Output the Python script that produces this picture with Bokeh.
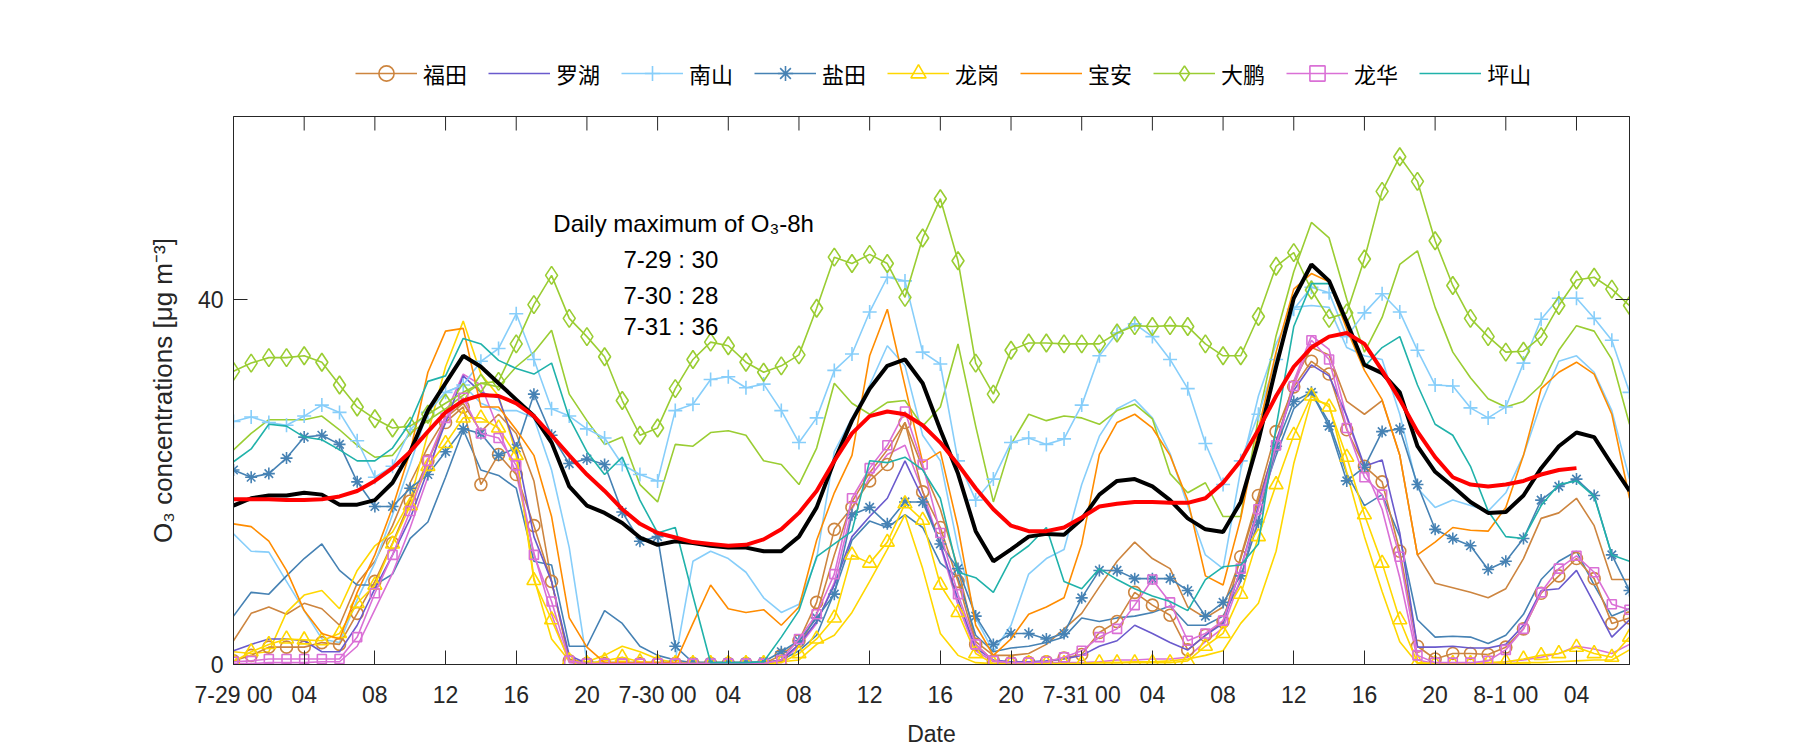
from bokeh.plotting import figure
from bokeh.layouts import column
from bokeh.models import Range1d, FixedTicker, LinearAxis, Legend, LegendItem, Label
from bokeh.embed import file_html
from bokeh.resources import INLINE

# ---------------- data ----------------
hours = list(range(80))          # hours since 7-29 00:00
tick_hours = [0, 4, 8, 12, 16, 20, 24, 28, 32, 36, 40, 44, 48, 52, 56, 60, 64, 68, 72, 76]
tick_labels = ["7-29 00", "04", "08", "12", "16", "20",
               "7-30 00", "04", "08", "12", "16", "20",
               "7-31 00", "04", "08", "12", "16", "20",
               "8-1 00", "04"]
y_ticks = [0, 40]

# 福田 (circles) and second station
futian_m = [0.4, 1.0, 1.9, 1.9, 1.9, 2.4, 2.2, 5.6, 9.1, 13.3,
            17.9, 22.3, 26.5, 28.2, 19.7, 23.0, 20.8, 15.2, 9.1, 0.4,
            0.1, 0.1, 0.1, 0.1, 0.1, 0.1, 0.1, 0.1, 0.1, 0.1,
            0.1, 1.0, 2.6, 6.8, 14.8, 17.2, 20.1, 21.9, 26.5, 18.9,
            15.0, 9.1, 2.2, 0.4, 0.2, 0.2, 0.3, 0.7, 1.1, 3.5,
            4.7, 7.9, 6.5, 5.4, 1.6, 3.2, 4.7, 11.8, 18.5, 25.5,
            30.4, 33.2, 31.8, 25.7, 21.7, 20.0, 12.4, 2.0, 0.6, 1.2,
            1.2, 1.1, 1.9, 3.9, 7.8, 9.7, 11.6, 9.4, 4.5, 5.1]
futian_2 = [2.6, 5.6, 6.3, 5.5, 6.7, 6.1, 4.3, 8.9, 11.3, 15.2,
            19.9, 23.8, 27.0, 28.6, 25.5, 27.4, 25.3, 20.1, 9.1, 0.6,
            0.2, 0.2, 0.2, 0.2, 0.2, 0.2, 0.2, 0.2, 0.2, 0.2,
            0.2, 0.5, 2.0, 5.5, 12.0, 17.8, 21.0, 23.5, 26.5, 21.5,
            17.0, 10.5, 2.5, 1.0, 1.0, 1.2, 2.2, 3.9, 5.6, 8.5,
            11.3, 13.4, 11.6, 10.5, 6.3, 5.1, 6.3, 11.6, 18.0, 24.1,
            31.0, 34.7, 33.9, 28.8, 27.4, 28.9, 22.9, 12.0, 8.9, 8.4,
            7.9, 7.3, 8.3, 11.6, 16.0, 16.6, 18.2, 15.2, 9.3, 9.3]
# 罗湖
luohu = [1.5, 2.2, 2.8, 2.8, 2.6, 1.4, 1.4, 4.3, 8.3, 12.0,
         16.0, 21.3, 26.5, 31.6, 29.8, 29.2, 23.7, 14.0, 9.1, 1.0,
         0.1, 0.1, 0.1, 0.1, 0.1, 0.1, 0.1, 0.1, 0.1, 0.1,
         0.1, 0.5, 2.2, 4.7, 8.7, 14.0, 16.2, 18.2, 22.3, 18.2,
         13.2, 7.1, 1.8, 0.5, 0.3, 0.3, 0.4, 0.6, 1.0, 2.0,
         2.6, 4.3, 3.4, 2.4, 1.6, 3.2, 4.5, 10.5, 17.4, 24.5,
         30.0, 32.8, 31.6, 27.2, 21.7, 22.4, 14.4, 1.9, 1.9, 2.0,
         1.8, 1.8, 2.2, 4.3, 8.1, 8.3, 10.3, 6.7, 3.0, 4.9]
# 南山 (plus) and second station
nanshan_m = [26.6, 27.1, 26.5, 26.2, 27.2, 28.4, 27.6, 24.5, 20.5, 21.7,
             25.7, 27.6, 29.8, 30.6, 33.2, 34.6, 38.4, 33.4, 28.0, 27.2,
             25.8, 24.8, 21.9, 20.8, 20.1, 27.8, 28.5, 31.2, 31.5, 30.3,
             30.7, 27.8, 24.3, 27.0, 32.2, 34.0, 38.6, 42.4, 42.0, 34.2,
             32.9, 22.3, 18.0, 20.3, 24.3, 24.8, 24.1, 24.7, 28.4, 33.8,
             36.3, 37.3, 35.9, 33.4, 30.2, 24.2, 19.7, 22.3, 27.4, 33.4,
             38.9, 41.3, 40.7, 35.9, 38.5, 40.6, 38.6, 34.4, 30.6, 30.5,
             28.1, 27.0, 28.2, 33.0, 37.8, 40.1, 40.1, 37.9, 35.5, 29.8]
nanshan_2 = [14.3, 12.4, 12.3, 9.1, 5.9, 2.8, 2.4, 7.1, 11.1, 16.4,
             21.9, 27.8, 29.8, 30.6, 28.6, 27.8, 27.8, 27.0, 21.3, 12.8,
             0.3, 0.2, 0.2, 0.2, 0.2, 0.5, 11.3, 12.4, 11.6, 10.1,
             7.3, 5.7, 6.6, 11.6, 23.3, 27.0, 30.6, 34.9, 32.7, 25.1,
             22.3, 12.8, 5.1, 1.4, 4.3, 9.9, 11.6, 12.6, 19.7, 25.0,
             28.0, 29.0, 27.0, 23.1, 17.4, 12.0, 10.5, 21.3, 29.4, 35.1,
             39.1, 39.3, 39.1, 34.7, 33.8, 33.4, 27.4, 19.3, 17.2, 18.0,
             17.4, 16.8, 18.8, 22.9, 28.6, 33.2, 33.8, 32.0, 27.8, 20.3]
# 盐田 (asterisk) and second station
yantian_m = [21.3, 20.5, 20.9, 22.6, 24.9, 25.1, 24.1, 20.0, 17.3, 17.3,
             19.3, 20.8, 23.3, 25.8, 25.3, 22.9, 23.7, 29.6, 25.1, 22.0,
             22.5, 21.9, 16.7, 13.5, 14.0, 2.0, 0.2, 0.2, 0.2, 0.2,
             0.3, 1.4, 2.6, 5.1, 7.7, 16.4, 17.2, 15.4, 17.8, 17.8,
             13.2, 10.5, 5.3, 2.2, 3.4, 3.4, 2.8, 3.4, 7.3, 10.3,
             10.3, 9.4, 9.4, 9.4, 8.1, 5.3, 6.8, 9.7, 15.6, 23.9,
             28.8, 29.8, 26.1, 20.1, 21.6, 25.5, 25.8, 19.7, 14.8, 13.8,
             13.0, 10.4, 11.3, 13.8, 18.0, 19.5, 20.3, 18.5, 12.0, 8.1]
yantian_2 = [5.3, 7.9, 7.7, 9.7, 11.6, 13.2, 10.3, 8.7, 8.7, 9.9,
             13.8, 15.6, 20.5, 25.7, 21.3, 20.7, 19.3, 11.3, 10.9, 2.0,
             2.0, 5.9, 4.5, 2.0, 1.0, 0.5, 0.2, 0.2, 0.2, 0.2,
             0.2, 0.5, 1.5, 3.2, 7.9, 13.6, 15.7, 15.0, 16.4, 15.0,
             11.1, 9.5, 3.2, 1.4, 1.8, 2.0, 2.4, 3.0, 5.1, 4.7,
             5.1, 5.3, 5.7, 6.4, 4.3, 4.3, 5.3, 9.1, 17.2, 22.9,
             28.0, 29.8, 26.5, 20.9, 17.4, 18.6, 14.0, 4.9, 3.0, 3.1,
             3.0, 2.3, 3.2, 5.5, 9.3, 11.3, 12.4, 8.7, 5.3, 6.1]
# 龙岗 (triangles) and second station
longgang_m = [0.3, 1.4, 2.2, 2.8, 2.7, 2.6, 3.4, 6.7, 8.7, 13.2,
              17.4, 21.7, 24.2, 27.0, 27.0, 25.9, 22.9, 9.2, 4.9, 0.4,
              0.1, 0.4, 0.8, 0.3, 0.2, 0.1, 0.1, 0.1, 0.1, 0.1,
              0.1, 0.2, 1.2, 2.8, 5.1, 12.0, 11.1, 13.4, 17.6, 15.8,
              8.7, 5.7, 1.2, 0.1, 0.1, 0.1, 0.1, 0.1, 0.1, 0.2,
              0.2, 0.2, 0.2, 0.2, 0.4, 2.0, 3.4, 7.7, 14.0, 19.7,
              25.1, 29.4, 28.2, 22.7, 16.4, 11.1, 4.9, 0.2, 0.1, 0.1,
              0.1, 0.2, 0.3, 0.6, 1.0, 1.2, 1.9, 1.2, 0.8, 3.0]
longgang_2 = [1.4, 1.2, 1.4, 5.7, 7.6, 8.1, 6.1, 10.3, 13.0, 14.5,
              18.0, 25.3, 32.6, 37.6, 31.8, 29.4, 23.1, 9.5, 2.8, 0.4,
              0.3, 1.0, 2.0, 1.4, 0.6, 0.2, 0.1, 0.1, 0.1, 0.1,
              0.2, 0.3, 0.5, 2.2, 3.2, 5.7, 9.1, 12.6, 16.4, 10.5,
              3.4, 1.0, 0.2, 0.1, 0.1, 0.1, 0.1, 0.1, 0.1, 0.2,
              0.2, 0.3, 0.3, 0.4, 0.6, 1.0, 1.5, 4.5, 6.7, 12.4,
              22.0, 29.0, 28.5, 21.0, 14.0, 8.0, 2.5, 0.1, 0.1, 0.1,
              0.1, 0.1, 0.1, 0.2, 0.2, 0.3, 0.4, 0.5, 0.5, 1.6]
# 宝安
baoan = [15.4, 15.1, 13.5, 10.3, 5.9, 3.4, 2.8, 7.9, 12.0, 17.2,
         23.3, 32.0, 36.5, 36.8, 28.2, 28.2, 25.7, 22.9, 16.2, 5.1,
         1.9, 0.2, 0.2, 0.2, 0.2, 0.2, 4.5, 8.7, 6.1, 5.7,
         6.0, 4.3, 6.3, 13.6, 18.8, 22.9, 33.8, 38.9, 30.5, 22.1,
         23.3, 15.0, 4.3, 1.0, 2.8, 5.5, 6.3, 7.3, 13.2, 23.0,
         26.5, 27.4, 25.9, 22.9, 18.0, 9.7, 8.7, 16.0, 25.7, 34.2,
         41.1, 42.8, 41.9, 36.7, 32.2, 29.0, 22.9, 12.0, 13.4, 15.0,
         14.7, 14.6, 17.2, 22.9, 30.2, 32.0, 33.1, 31.8, 27.4, 18.2]
# 大鹏 (diamonds) and second station
dapeng_m = [32.1, 33.0, 33.6, 33.6, 33.8, 33.1, 30.6, 28.2, 26.9, 25.9,
            26.1, 27.4, 28.6, 29.8, 30.8, 31.0, 35.1, 39.4, 42.6, 37.9,
            35.9, 33.7, 28.9, 25.1, 25.9, 30.2, 33.4, 35.3, 34.9, 33.1,
            32.0, 32.7, 33.9, 39.0, 44.6, 43.9, 44.9, 43.9, 40.2, 46.7,
            51.0, 44.2, 33.0, 29.6, 34.4, 35.2, 35.2, 35.1, 35.1, 35.1,
            36.3, 37.1, 37.0, 37.1, 37.0, 35.1, 33.8, 33.8, 38.1, 43.6,
            45.1, 41.0, 37.9, 38.5, 44.4, 51.8, 55.6, 52.9, 46.4, 41.5,
            37.9, 35.9, 34.2, 34.3, 35.9, 39.3, 42.1, 42.4, 41.1, 39.3]
dapeng_2 = [23.5, 25.3, 26.8, 26.8, 26.8, 27.2, 25.7, 24.0, 22.7, 22.9,
            25.3, 26.7, 28.0, 29.5, 30.8, 30.4, 32.6, 34.2, 36.6, 29.6,
            26.7, 24.1, 24.9, 19.7, 17.8, 24.1, 23.9, 25.4, 25.6, 25.1,
            22.3, 21.9, 19.7, 23.7, 30.8, 28.6, 27.4, 28.7, 28.9, 26.1,
            28.2, 35.1, 26.1, 17.8, 24.1, 27.4, 26.7, 27.2, 27.0, 26.3,
            27.8, 28.5, 26.9, 20.9, 18.8, 19.9, 16.2, 16.2, 27.0, 36.0,
            43.0, 48.4, 46.7, 40.0, 34.2, 38.0, 43.8, 45.3, 39.1, 34.2,
            31.4, 29.1, 28.2, 28.8, 30.6, 34.4, 37.1, 36.5, 33.4, 26.3]
# 龙华 (squares) and second station
longhua_m = [0.3, 0.4, 0.6, 0.6, 0.6, 0.6, 0.6, 3.0, 7.8, 12.0,
             16.8, 22.3, 27.0, 29.2, 25.3, 24.8, 21.8, 12.0, 6.9, 0.4,
             0.1, 0.1, 0.1, 0.1, 0.1, 0.1, 0.1, 0.1, 0.1, 0.1,
             0.1, 0.5, 2.8, 5.5, 9.9, 18.2, 21.5, 24.0, 27.7, 21.9,
             14.4, 7.7, 2.2, 0.4, 0.2, 0.2, 0.3, 0.8, 1.5, 3.0,
             3.9, 6.5, 9.3, 6.8, 2.6, 3.4, 4.8, 10.5, 17.0, 24.0,
             30.5, 35.5, 33.4, 25.9, 20.5, 18.6, 11.8, 1.0, 0.2, 0.2,
             0.2, 0.4, 1.6, 3.9, 7.9, 10.5, 11.9, 10.1, 6.6, 6.0]
longhua_2 = [0.1, 0.1, 0.2, 0.2, 0.2, 0.3, 0.3, 2.0, 6.0, 10.0,
             15.0, 20.5, 27.5, 31.8, 30.6, 25.7, 20.9, 12.2, 5.5, 0.2,
             0.1, 0.1, 0.1, 0.1, 0.1, 0.1, 0.1, 0.1, 0.1, 0.1,
             0.1, 0.4, 2.0, 4.5, 9.0, 17.0, 20.5, 23.0, 24.0, 19.0,
             13.0, 6.5, 1.5, 0.3, 0.2, 0.2, 0.2, 0.2, 0.2, 0.3,
             0.5, 0.5, 0.6, 0.6, 0.8, 2.5, 4.0, 9.5, 16.0, 23.5,
             31.0, 36.0, 34.5, 27.0, 21.5, 17.0, 9.5, 0.5, 0.1, 0.1,
             0.1, 0.1, 0.3, 0.5, 0.8, 1.2, 2.0, 1.7, 1.2, 2.2]
# 坪山
pingshan = [22.2, 23.6, 26.3, 26.1, 24.9, 24.6, 23.5, 22.3, 22.3, 23.7,
            26.5, 31.0, 31.6, 35.7, 35.1, 33.3, 32.4, 31.8, 33.0, 27.0,
            23.3, 20.8, 22.7, 18.0, 14.4, 15.0, 7.5, 0.2, 0.2, 0.2,
            0.3, 3.0, 5.9, 11.8, 13.2, 14.6, 22.3, 22.1, 22.7, 21.3,
            18.2, 10.1, 9.5, 7.9, 11.6, 13.0, 15.0, 9.1, 8.3, 10.5,
            9.3, 8.3, 7.5, 6.9, 5.9, 9.3, 10.7, 10.9, 13.2, 26.0,
            37.0, 41.7, 41.7, 37.5, 32.6, 34.7, 35.9, 30.6, 26.3, 25.1,
            21.7, 16.8, 14.0, 13.8, 17.4, 19.7, 20.1, 18.4, 12.0, 11.3]
# city mean (black) and 8-h running mean (red)
city_mean = [17.4, 18.2, 18.5, 18.5, 18.8, 18.6, 17.5, 17.5, 18.0, 19.9,
             23.3, 27.8, 30.8, 33.8, 32.6, 30.8, 29.0, 27.2, 24.3, 19.5,
             17.4, 16.6, 15.5, 13.9, 13.1, 13.5, 13.3, 13.0, 12.8, 12.8,
             12.4, 12.4, 14.0, 17.2, 22.3, 26.7, 30.2, 32.7, 33.4, 30.8,
             25.7, 20.9, 14.6, 11.3, 12.6, 14.0, 14.3, 14.2, 15.9, 18.6,
             20.1, 20.3, 19.5, 18.0, 16.0, 14.8, 14.5, 17.8, 24.5, 32.6,
             40.1, 43.8, 42.0, 37.5, 32.8, 31.9, 29.8, 23.9, 21.1, 19.5,
             17.8, 16.6, 16.7, 18.5, 21.5, 23.9, 25.4, 24.9, 21.9, 19.0]
o3_8h = [18.1, 18.1, 18.1, 18.0, 18.0, 18.1, 18.4, 19.0, 20.1, 21.5,
         23.3, 25.5, 27.6, 28.9, 29.5, 29.4, 28.6, 27.2, 25.1, 22.9,
         20.8, 19.0, 17.0, 15.4, 14.4, 13.9, 13.4, 13.2, 13.0, 13.1,
         13.7, 14.8, 16.6, 19.0, 22.3, 25.3, 27.2, 27.7, 27.4, 26.2,
         24.3, 21.9, 19.3, 17.0, 15.2, 14.6, 14.6, 15.0, 16.1, 17.3,
         17.6, 17.8, 17.8, 17.7, 17.7, 18.2, 19.9, 22.3, 25.7, 29.4,
         32.6, 34.7, 35.9, 36.3, 35.1, 32.2, 29.0, 25.5, 22.7, 20.5,
         19.7, 19.5, 19.7, 20.1, 20.8, 21.3, 21.5]

annot_title = "Daily maximum of O₃-8h"
annot_lines = ["7-29 : 30", "7-30 : 28", "7-31 : 36"]

# ---------------- styling ----------------
FONT = "Liberation Sans"
CJK = "Noto Sans CJK SC"
AX = "#262626"
X_MAX, Y_MAX = 79, 60
W = 1800
LEG_H = 115          # strip holding the legend above the axes
MAIN_H = 750 - LEG_H
FRAME_H = 548

C_FT, C_LH, C_NS, C_YT = "#CD853F", "#6A5ACD", "#87CEFA", "#4682B4"
C_LG, C_BA, C_DP, C_LHU, C_PS = "#FFD700", "#FF8C00", "#9ACD32", "#DA70D6", "#20B2AA"

p = figure(width=W, height=MAIN_H, x_range=Range1d(0, X_MAX), y_range=Range1d(0, Y_MAX),
           output_backend="svg", toolbar_location=None,
           min_border_left=233, min_border_right=171, min_border_top=1,
           min_border_bottom=MAIN_H - 1 - FRAME_H)
p.xgrid.visible = False
p.ygrid.visible = False
p.outline_line_color = AX
p.outline_line_width = 1
p.background_fill_color = "white"
p.border_fill_color = "white"

# x axis
xa = p.xaxis[0]
xa.ticker = FixedTicker(ticks=tick_hours)
xa.major_label_overrides = {h: t for h, t in zip(tick_hours, tick_labels)}
xa.major_tick_in = 14
xa.major_tick_out = 0
xa.minor_tick_in = 0
xa.minor_tick_out = 0
xa.axis_line_color = AX
xa.major_tick_line_color = AX
xa.major_label_text_font = FONT
xa.major_label_text_font_size = "23px"
xa.major_label_text_color = AX
xa.major_label_standoff = 17
xa.axis_label = "Date"
xa.axis_label_text_font = FONT
xa.axis_label_text_font_size = "23px"
xa.axis_label_text_font_style = "normal"
xa.axis_label_text_color = AX
xa.axis_label_standoff = 10

ya = p.yaxis[0]
ya.ticker = FixedTicker(ticks=y_ticks)
ya.major_tick_in = 14
ya.major_tick_out = 0
ya.minor_tick_in = 0
ya.minor_tick_out = 0
ya.axis_line_color = AX
ya.major_tick_line_color = AX
ya.major_label_text_font = FONT
ya.major_label_text_font_size = "23px"
ya.major_label_text_color = AX
ya.major_label_standoff = 10
ya.axis_label = "O₃ concentrations [μg m⁻³]"
ya.axis_label_text_font = FONT
ya.axis_label_text_font_size = "26px"
ya.axis_label_text_font_style = "normal"
ya.axis_label_text_color = AX
ya.axis_label_standoff = 17

# mirrored ticks on the right (axis without labels)
right = LinearAxis(ticker=FixedTicker(ticks=y_ticks),
                   major_label_overrides={v: "" for v in y_ticks},
                   major_tick_in=14, major_tick_out=0, minor_tick_in=0, minor_tick_out=0,
                   axis_line_color=AX, major_tick_line_color=AX)
p.add_layout(right, "right")

# mirrored ticks along the top edge (14 px long, inward)
tick_len = 14 * Y_MAX / FRAME_H
p.segment(x0=tick_hours, y0=[Y_MAX] * len(tick_hours), x1=tick_hours,
          y1=[Y_MAX - tick_len] * len(tick_hours), line_color=AX, line_width=1)

LW = 1.6
# second stations (thin lines, no legend)
for ys, c in [(futian_2, C_FT), (nanshan_2, C_NS), (yantian_2, C_YT), (longgang_2, C_LG),
              (dapeng_2, C_DP), (longhua_2, C_LHU)]:
    p.line(hours, ys, line_color=c, line_width=LW)

# legend strip: separate svg figure above the axes; its renderers hold the same
# series but its y-range is below all values, so only the legend shows
lf = figure(width=W, height=LEG_H, x_range=Range1d(0, X_MAX), y_range=Range1d(-2, -1),
            output_backend="svg", toolbar_location=None, x_axis_type=None, y_axis_type=None,
            min_border=0)
lf.outline_line_color = None
lf.background_fill_color = "white"
lf.border_fill_color = "white"

items = []
def series(label, ys, color, marker=None, size=10):
    p.line(hours, ys, line_color=color, line_width=LW)
    rs = [lf.line(hours, ys, line_color=color, line_width=LW)]
    if marker:
        p.scatter(hours, ys, marker=marker, size=size, line_color=color,
                  fill_color=None, line_width=LW)
        rs.append(lf.scatter(hours, ys, marker=marker, size=size, line_color=color,
                             fill_color=None, line_width=LW))
    items.append(LegendItem(label=label, renderers=rs))

series("福田", futian_m, C_FT, "circle", 12)
series("罗湖", luohu, C_LH)
series("南山", nanshan_m, C_NS, "cross", 14)
series("盐田", yantian_m, C_YT, "asterisk", 12)
series("龙岗", longgang_m, C_LG, "triangle", 14)
series("宝安", baoan, C_BA)
series("大鹏", dapeng_m, C_DP, "diamond", 18)
series("龙华", longhua_m, C_LHU, "square", 9)
series("坪山", pingshan, C_PS)

p.line(hours, city_mean, line_color="black", line_width=4)
p.line(hours[:len(o3_8h)], o3_8h, line_color="#FF0000", line_width=4)

legend = Legend(items=items, orientation="horizontal", location=(122, 23),
                glyph_width=62, glyph_height=38, label_height=24, label_standoff=6,
                spacing=21, padding=0, margin=0, border_line_color=None,
                background_fill_alpha=0, label_text_font=CJK,
                label_text_font_size="22px", label_text_color="black")
lf.add_layout(legend)

# annotation
p.add_layout(Label(x=18.1, y=48.3, text=annot_title, text_font=FONT,
                   text_font_size="24px", text_baseline="alphabetic", text_color="black"))
for txt, yv in zip(annot_lines, [44.3, 40.4, 37.0]):
    p.add_layout(Label(x=22.07, y=yv, text=txt, text_font=FONT,
                       text_font_size="24px", text_baseline="alphabetic", text_color="black"))

layout = column(lf, p, spacing=0)
open("out.html", "w").write(file_html(layout, INLINE))
